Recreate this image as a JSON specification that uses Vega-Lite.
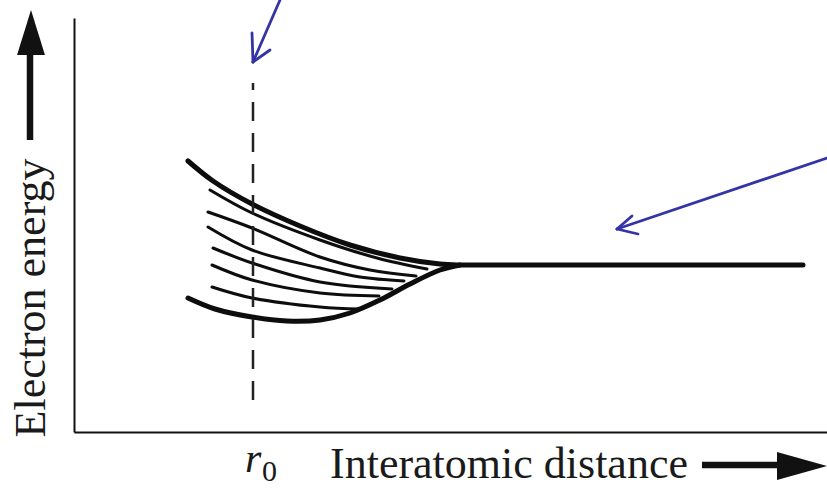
{
  "$schema": "https://vega.github.io/schema/vega-lite/v6.json",
  "width": 753,
  "height": 414,
  "autosize": "none",
  "padding": {"left": 74, "top": 18, "right": 0, "bottom": 56},
  "background": "white",
  "config": {
    "view": {"stroke": null},
    "axis": {"domain": true, "domainColor": "#111111", "domainWidth": 2, "ticks": false, "labels": false, "grid": false}
  },
  "datasets": {
    "outer": [
      {"curve": "upper", "x": 114, "y": 271}, {"curve": "upper", "x": 139, "y": 251}, {"curve": "upper", "x": 178, "y": 228},
      {"curve": "upper", "x": 226, "y": 206}, {"curve": "upper", "x": 276, "y": 187}, {"curve": "upper", "x": 326, "y": 174},
      {"curve": "upper", "x": 366, "y": 168}, {"curve": "upper", "x": 386, "y": 167}, {"curve": "upper", "x": 426, "y": 167},
      {"curve": "upper", "x": 600, "y": 167}, {"curve": "upper", "x": 729, "y": 167},
      {"curve": "lower", "x": 114, "y": 134}, {"curve": "lower", "x": 141, "y": 123}, {"curve": "lower", "x": 178, "y": 115},
      {"curve": "lower", "x": 213, "y": 111}, {"curve": "lower", "x": 246, "y": 112}, {"curve": "lower", "x": 276, "y": 119},
      {"curve": "lower", "x": 306, "y": 132}, {"curve": "lower", "x": 336, "y": 148}, {"curve": "lower", "x": 366, "y": 162},
      {"curve": "lower", "x": 386, "y": 167}
    ],
    "inner": [
      {"curve": "i1", "x": 136, "y": 242}, {"curve": "i1", "x": 178, "y": 219}, {"curve": "i1", "x": 246, "y": 192}, {"curve": "i1", "x": 303, "y": 174}, {"curve": "i1", "x": 353, "y": 163},
      {"curve": "i2", "x": 134, "y": 220}, {"curve": "i2", "x": 178, "y": 204}, {"curve": "i2", "x": 246, "y": 175}, {"curve": "i2", "x": 296, "y": 162}, {"curve": "i2", "x": 342, "y": 156},
      {"curve": "i3", "x": 134, "y": 205}, {"curve": "i3", "x": 178, "y": 182}, {"curve": "i3", "x": 246, "y": 164}, {"curve": "i3", "x": 286, "y": 155}, {"curve": "i3", "x": 330, "y": 151},
      {"curve": "i4", "x": 139, "y": 184}, {"curve": "i4", "x": 178, "y": 169}, {"curve": "i4", "x": 246, "y": 150}, {"curve": "i4", "x": 318, "y": 143},
      {"curve": "i5", "x": 138, "y": 167}, {"curve": "i5", "x": 178, "y": 152}, {"curve": "i5", "x": 246, "y": 139}, {"curve": "i5", "x": 305, "y": 136},
      {"curve": "i6", "x": 138, "y": 145}, {"curve": "i6", "x": 178, "y": 134}, {"curve": "i6", "x": 246, "y": 125}, {"curve": "i6", "x": 286, "y": 123}
    ],
    "r0line": [{"x": 179, "y": 32, "y2": 349}],
    "pointers": [
      {"x": 206, "y": 432, "x2": 179, "y2": 370},
      {"x": 178, "y": 399, "x2": 179, "y2": 370},
      {"x": 196, "y": 382, "x2": 179, "y2": 370},
      {"x": 753, "y": 274, "x2": 543, "y2": 203},
      {"x": 558, "y": 216, "x2": 543, "y2": 203},
      {"x": 564, "y": 198, "x2": 543, "y2": 203}
    ],
    "shafts": [
      {"axis": "energy", "x": -44, "y": 377, "x2": -44, "y2": 292},
      {"axis": "distance", "x": 628, "y": -33, "x2": 713, "y2": -33}
    ],
    "headUp": [{"x": -43, "y": 399.5}],
    "headRight": [{"x": 728, "y": -34}],
    "yTitle": [{"x": -29, "y": 134, "label": "Electron energy"}],
    "xTitle": [{"x": 256, "y": -46, "label": "Interatomic distance"}],
    "rLabel": [{"x": 171, "y": -40, "label": "r"}],
    "subLabel": [{"x": 188, "y": -49, "label": "0"}]
  },
  "layer": [
    {
      "data": {"name": "outer"},
      "mark": {"type": "line", "color": "#0d0d0d", "strokeWidth": 5, "interpolate": "catmull-rom", "strokeCap": "round"},
      "encoding": {
        "x": {"field": "x", "type": "quantitative", "scale": {"domain": [0, 753], "nice": false, "zero": false}, "axis": {"title": null}},
        "y": {"field": "y", "type": "quantitative", "scale": {"domain": [0, 414], "nice": false, "zero": false}, "axis": {"title": null}},
        "detail": {"field": "curve", "type": "nominal"}
      }
    },
    {
      "data": {"name": "inner"},
      "mark": {"type": "line", "color": "#0d0d0d", "strokeWidth": 3, "interpolate": "catmull-rom", "strokeCap": "round"},
      "encoding": {
        "x": {"field": "x", "type": "quantitative", "axis": {"title": null}},
        "y": {"field": "y", "type": "quantitative", "axis": {"title": null}},
        "detail": {"field": "curve", "type": "nominal"}
      }
    },
    {
      "data": {"name": "r0line"},
      "mark": {"type": "rule", "color": "#222222", "strokeWidth": 2.5, "strokeDash": [19, 12]},
      "encoding": {
        "x": {"field": "x", "type": "quantitative", "axis": {"title": null}},
        "y": {"field": "y", "type": "quantitative", "axis": {"title": null}},
        "y2": {"field": "y2"}
      }
    },
    {
      "data": {"name": "pointers"},
      "mark": {"type": "rule", "color": "#3434a6", "strokeWidth": 2.8, "strokeCap": "round"},
      "encoding": {
        "x": {"field": "x", "type": "quantitative", "axis": {"title": null}},
        "y": {"field": "y", "type": "quantitative", "axis": {"title": null}},
        "x2": {"field": "x2"},
        "y2": {"field": "y2"}
      }
    },
    {
      "data": {"name": "shafts"},
      "mark": {"type": "rule", "color": "#111111", "strokeWidth": 6.5},
      "encoding": {
        "x": {"field": "x", "type": "quantitative", "axis": {"title": null}},
        "y": {"field": "y", "type": "quantitative", "axis": {"title": null}},
        "x2": {"field": "x2"},
        "y2": {"field": "y2"}
      }
    },
    {
      "data": {"name": "headUp"},
      "mark": {"type": "point", "shape": "M0,-1L0.62,1L-0.62,1Z", "size": 2025, "filled": true, "color": "#111111", "opacity": 1},
      "encoding": {
        "x": {"field": "x", "type": "quantitative", "axis": {"title": null}},
        "y": {"field": "y", "type": "quantitative", "axis": {"title": null}}
      }
    },
    {
      "data": {"name": "headRight"},
      "mark": {"type": "point", "shape": "M1,0L-1,-0.56L-1,0.56Z", "size": 2500, "filled": true, "color": "#111111", "opacity": 1},
      "encoding": {
        "x": {"field": "x", "type": "quantitative", "axis": {"title": null}},
        "y": {"field": "y", "type": "quantitative", "axis": {"title": null}}
      }
    },
    {
      "data": {"name": "yTitle"},
      "mark": {"type": "text", "font": "Liberation Serif", "fontSize": 44, "angle": 270, "align": "center", "baseline": "alphabetic", "color": "#1a1a1a"},
      "encoding": {
        "x": {"field": "x", "type": "quantitative", "axis": {"title": null}},
        "y": {"field": "y", "type": "quantitative", "axis": {"title": null}},
        "text": {"field": "label"}
      }
    },
    {
      "data": {"name": "xTitle"},
      "mark": {"type": "text", "font": "Liberation Serif", "fontSize": 44, "align": "left", "baseline": "alphabetic", "color": "#1a1a1a"},
      "encoding": {
        "x": {"field": "x", "type": "quantitative", "axis": {"title": null}},
        "y": {"field": "y", "type": "quantitative", "axis": {"title": null}},
        "text": {"field": "label"}
      }
    },
    {
      "data": {"name": "rLabel"},
      "mark": {"type": "text", "font": "Liberation Serif", "fontSize": 42, "fontStyle": "italic", "align": "left", "baseline": "alphabetic", "color": "#1a1a1a"},
      "encoding": {
        "x": {"field": "x", "type": "quantitative", "axis": {"title": null}},
        "y": {"field": "y", "type": "quantitative", "axis": {"title": null}},
        "text": {"field": "label"}
      }
    },
    {
      "data": {"name": "subLabel"},
      "mark": {"type": "text", "font": "Liberation Serif", "fontSize": 30, "align": "left", "baseline": "alphabetic", "color": "#1a1a1a"},
      "encoding": {
        "x": {"field": "x", "type": "quantitative", "axis": {"title": null}},
        "y": {"field": "y", "type": "quantitative", "axis": {"title": null}},
        "text": {"field": "label"}
      }
    }
  ]
}
